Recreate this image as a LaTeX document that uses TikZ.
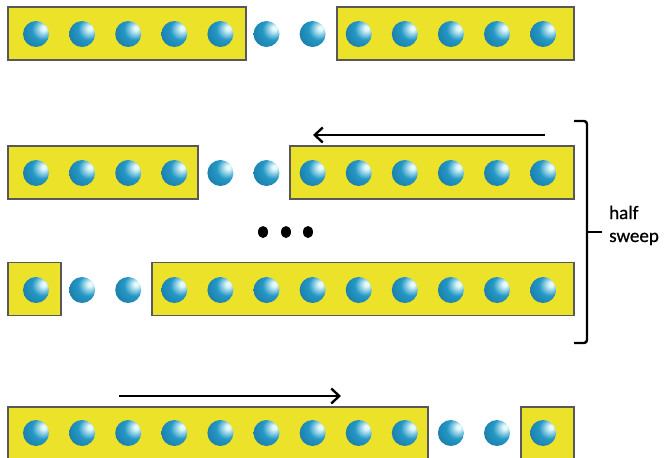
\documentclass[tikz,border=0pt]{standalone}
\usepackage{fontspec}
\setmainfont{Carlito}
\newfontfamily\captionfont[FakeBold=0.8]{Carlito}
\usetikzlibrary{arrows.meta,shapes.geometric}
\definecolor{boxfill}{RGB}{236,226,42}
\definecolor{boxline}{RGB}{88,88,88}
\definecolor{ballhi}{RGB}{228,250,252}
\definecolor{ballmid}{RGB}{36,152,198}
\definecolor{balldark}{RGB}{12,66,104}
% glossy sphere, highlight towards the upper right
\pgfdeclareradialshading{glassball}{\pgfpoint{16bp}{12bp}}{%
  color(0bp)=(ballhi); color(4bp)=(ballhi); color(20bp)=(ballmid);
  color(42bp)=(ballmid!60!balldark); color(62bp)=(balldark); color(80bp)=(balldark)}
\tikzset{
  cell/.style={draw=boxline, line width=1.4pt, fill=boxfill, rectangle,
    inner sep=0pt, minimum height=53pt},
  sphere/.style={circle, inner sep=0pt, minimum size=26pt, shade, shading=glassball},
  ellipsisdot/.style={ellipse, fill=black, inner sep=0pt, minimum width=10pt, minimum height=12pt},
  sweeparrow/.style={line width=2.4pt, -{Straight Barb[length=8pt,width=15pt,line width=2.4pt]}},
  bracket/.style={line width=2.4pt, rounded corners=3pt},
  caption/.style={font=\captionfont\fontsize{19}{23}\selectfont, inner sep=0pt, anchor=base west}
}
\begin{document}
\begin{tikzpicture}[x=1pt, y=-1pt]
\useasboundingbox (0,0) rectangle (665,458);

% row 1
\node[cell, minimum width=238pt] (r1L) at (127,33.5) {};
\node[cell, minimum width=237pt] (r1R) at (455.5,33.5) {};
% row 2
\node[cell, minimum width=190pt] (r2L) at (103,172.5) {};
\node[cell, minimum width=284pt] (r2R) at (432,172.5) {};
% row 3
\node[cell, minimum width=53pt] (r3L) at (34.5,289) {};
\node[cell, minimum width=422pt] (r3R) at (363,289) {};
% row 4
\node[cell, minimum width=420pt] (r4L) at (218,433.5) {};
\node[cell, minimum width=53pt] (r4R) at (547.5,433.5) {};

% twelve spheres in every row
\foreach \r/\y in {1/34, 2/173, 3/290, 4/433} {
  \foreach \i in {0,...,11} {
    \node[sphere] (b\r-\i) at ({36+46.1*\i},\y) {};
  }
}

% sweep arrows
\coordinate (a2s) at (545,135);
\coordinate (a2e) at (313,135);
\draw[sweeparrow] (a2s) -- (a2e);
\coordinate (a4s) at (119,396);
\coordinate (a4e) at (341,396);
\draw[sweeparrow] (a4s) -- (a4e);

% ellipsis between the rows
\node[ellipsisdot] (d1) at (263,232) {};
\node[ellipsisdot] (d2) at (286,232) {};
\node[ellipsisdot] (d3) at (308,232) {};

% bracket grouping rows 2 and 3
\coordinate (bt) at (574,121);
\coordinate (bb) at (574,343);
\draw[bracket] (bt) -- (587,121) -- (587,343) -- (bb);
\coordinate (bm) at (587,232);
\coordinate (bmt) at (602,232);
\draw[line width=2.4pt] (bm) -- (bmt);

\node[caption] (lhalf) at (609,219) {half};
\node[caption] (lsweep) at (609,242) {sweep};
\end{tikzpicture}
\end{document}
